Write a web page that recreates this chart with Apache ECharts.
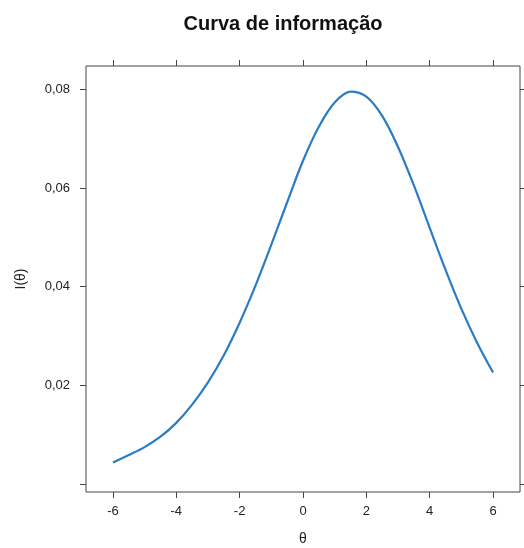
<!DOCTYPE html>
<html>
<head>
<meta charset="utf-8">
<script src="https://cdn.jsdelivr.net/npm/echarts@6/dist/echarts.min.js"></script>
<style>
html,body{margin:0;padding:0;background:#fff;}
#main{width:524px;height:548px;}
</style>
</head>
<body>
<div id="main"></div>
<script>
// theta values and the information
var theta = [-6,-5.5,-5,-4.5,-4,-3.5,-3,-2.5,-2,-1.5,-1,-0.5,0,0.5,1,1.5,2,2.5,3,3.5,4,4.5,5,5.5,6];
var info = [0.0044,0.0059,0.0075,0.0096,0.0124,0.0161,0.0206,0.0261,0.0327,0.0402,0.0485,0.0571,0.0655,0.0724,0.0773,0.0795,0.0785,0.0746,0.0683,0.0605,0.0519,0.0434,0.0355,0.0286,0.0226];
var xTicks = [-6,-4,-2,0,2,4,6];
var yTicks = [0,0.02,0.04,0.06,0.08];
var yLabels = [0.02,0.04,0.06,0.08];

var pts = [];
for (var i = 0; i < theta.length; i++) pts.push([theta[i], info[i]]);

var font = 'Liberation Sans, Arial, sans-serif';
var lineCol = '#444';
var tick = {show:true, inside:false, length:6, lineStyle:{color:lineCol, width:1}};
var noLine = {show:false, onZero:false};

var myChart = echarts.init(document.getElementById('main'));
var option = {
  animation:false,
  title:{
    text:'Curva de informação',
    left:278, top:9, textAlign:'center',
    textStyle:{fontFamily:font, fontSize:20, fontWeight:'bold', color:'#111'}
  },
  grid:{left:86, top:66, right:4, bottom:56, outerBoundsMode:'none', containLabel:false,
    show:true, borderColor:lineCol, borderWidth:1},
  xAxis:[{
    type:'value', min:-6.85, max:6.85,
    name:'θ', nameLocation:'middle', nameGap:40,
    nameTextStyle:{fontFamily:font, fontSize:14, color:'#222'},
    axisLine:noLine, splitLine:{show:false},
    axisTick:Object.assign({customValues:xTicks}, tick),
    axisLabel:{customValues:xTicks, margin:13, fontFamily:font, fontSize:13, color:'#222'}
  },{
    type:'value', position:'top', min:-6.85, max:6.85,
    axisLine:noLine, splitLine:{show:false},
    axisTick:Object.assign({customValues:xTicks}, tick),
    axisLabel:{show:false}
  }],
  yAxis:[{
    type:'value', min:-0.0016, max:0.0847,
    name:'I(θ)', nameLocation:'middle', nameGap:58, nameRotate:90,
    nameTextStyle:{fontFamily:font, fontSize:14, color:'#222'},
    axisLine:noLine, splitLine:{show:false},
    axisTick:Object.assign({customValues:yTicks}, tick),
    axisLabel:{customValues:yLabels, margin:16, fontFamily:font, fontSize:13, color:'#222',
      formatter:function(v){ return v.toFixed(2).replace('.', ','); }}
  },{
    type:'value', position:'right', min:-0.0016, max:0.0847,
    axisLine:noLine, splitLine:{show:false},
    axisTick:Object.assign({customValues:yTicks}, tick),
    axisLabel:{show:false}
  }],
  series:[{
    type:'line', data:pts, showSymbol:false, smooth:0.35,
    lineStyle:{color:'#2a7cc4', width:2.2}
  }]
};
myChart.setOption(option);
</script>
</body>
</html>
